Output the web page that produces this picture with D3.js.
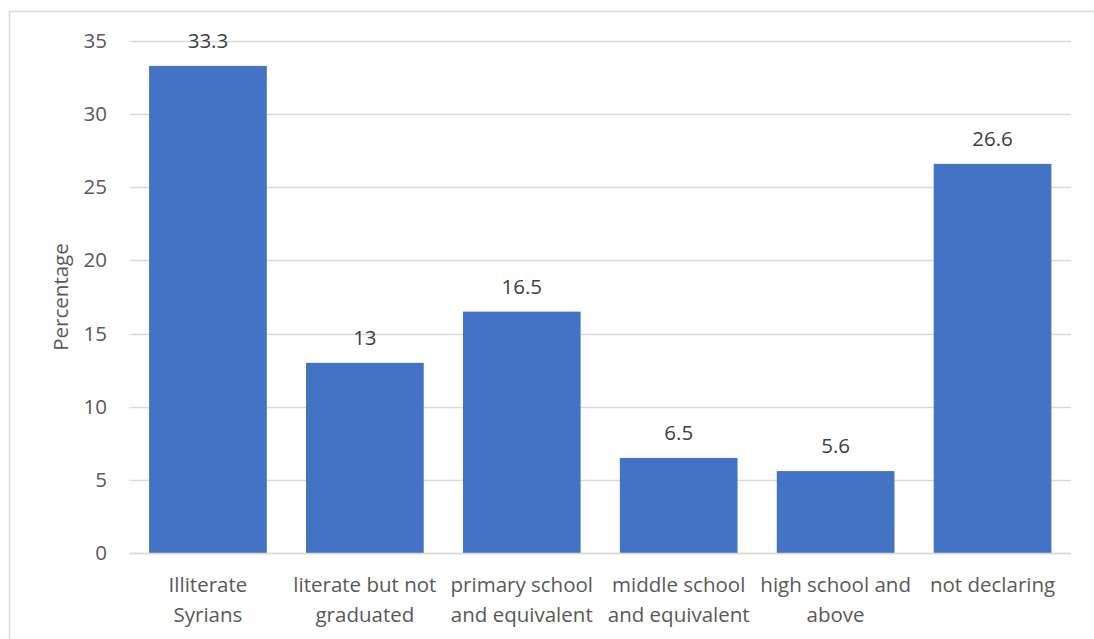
<!DOCTYPE html>
<html><head><meta charset="utf-8">
<script src="https://cdn.jsdelivr.net/npm/d3@7"></script>
<style>body{margin:0;background:#fff;}svg{display:block;font-family:"Open Sans","Noto Sans",sans-serif;}</style>
</head><body>
<svg id="c" width="1094" height="639"></svg>
<script>
const categories = [["Illiterate","Syrians"],["literate but not","graduated"],["primary school","and equivalent"],["middle school","and equivalent"],["high school and","above"],["not declaring"]];
const values = [33.3, 13, 16.5, 6.5, 5.6, 26.6];
const valueLabels = ["33.3","13","16.5","6.5","5.6","26.6"];
const yTicks = [0,5,10,15,20,25,30,35];
const yTitle = "Percentage";

const FS = "20.5px";
const svg = d3.select("#c");
svg.append("rect").attr("x",9.5).attr("y",11.5).attr("width",1200).attr("height",700)
  .attr("fill","none").attr("stroke","#d9d9d9").attr("stroke-width",1.5);

const pL=129.5, pR=1071, pT=41, pB=553;
const x = d3.scaleBand().domain(d3.range(values.length)).range([pL,pR]).paddingInner(0.25).paddingOuter(0.125);
const y = d3.scaleLinear().domain([0,35]).range([pB,pT]);

const grid = svg.append("g");
grid.selectAll("line").data(yTicks).join("line")
  .attr("x1",pL).attr("x2",pR).attr("y1",d=>Math.round(y(d))+0.5).attr("y2",d=>Math.round(y(d))+0.5)
  .attr("stroke","#d9d9d9").attr("stroke-width",1.3);

const yAxis = d3.axisLeft(y).tickValues(yTicks).tickSize(0).tickPadding(0);
const ya = svg.append("g").attr("transform",`translate(107,0)`).call(yAxis);
ya.select(".domain").remove();
ya.selectAll("text").attr("fill","#595959").style("font-size",FS).style("font-family",'"Open Sans","Noto Sans",sans-serif');

svg.append("g").selectAll("rect").data(values).join("rect")
  .attr("x",(d,i)=>x(i)).attr("width",x.bandwidth())
  .attr("y",d=>y(d)).attr("height",d=>y(0)-y(d)).attr("fill","#4472c4");

svg.append("g").selectAll("text").data(values).join("text")
  .attr("x",(d,i)=>x(i)+x.bandwidth()/2).attr("y",d=>y(d)-18)
  .attr("text-anchor","middle").attr("fill","#404040").style("font-size",FS)
  .text((d,i)=>valueLabels[i]);

svg.append("line").attr("x1",pL).attr("x2",pR).attr("y1",Math.round(y(0))+0.5).attr("y2",Math.round(y(0))+0.5).attr("stroke","#d9d9d9").attr("stroke-width",1.3);

const cat = svg.append("g");
categories.forEach((lines,i)=>{
  const t = cat.append("text").attr("x",x(i)+x.bandwidth()/2).attr("y",592)
    .attr("text-anchor","middle").attr("fill","#595959").style("font-size",FS);
  lines.forEach((l,j)=>t.append("tspan").attr("x",x(i)+x.bandwidth()/2).attr("dy",j?30:0).text(l));
});

svg.append("text").attr("transform",`translate(68,${(pT+pB)/2}) rotate(-90)`)
  .attr("text-anchor","middle").attr("fill","#595959").style("font-size",FS).text(yTitle);
</script>
</body></html>
